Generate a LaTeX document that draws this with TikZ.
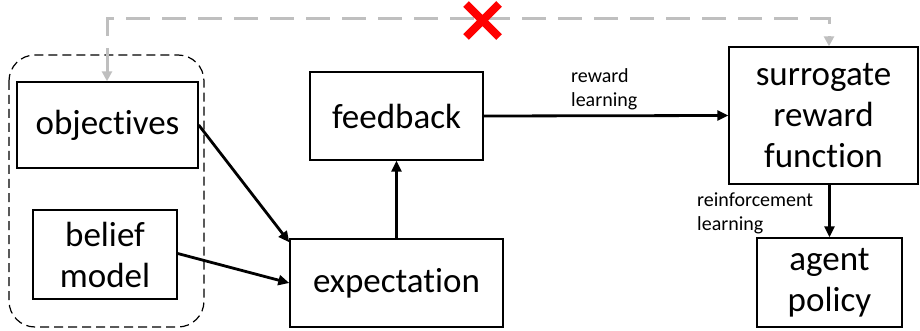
\documentclass[tikz,border=0pt]{standalone}
\usepackage{fontspec}
\setmainfont{Carlito}[RawFeature=-liga]
\usetikzlibrary{arrows.meta,calc}

\begin{document}
\begin{tikzpicture}[x=1pt,y=-1pt,
  box/.style={draw=black,line width=1.4pt,fill=white,inner sep=0pt,align=center,
    font=\fontsize{35}{41}\selectfont},
  flow/.style={line width=2.8pt,-{Triangle[length=11pt,width=10pt]}},
  lbl/.style={font=\fontsize{20}{24}\selectfont,align=left,inner sep=0pt},
  skip/.style={draw={rgb,255:red,191;green,191;blue,191},line width=3pt,
    dash pattern=on 24pt off 12pt,
    {Triangle[length=10pt,width=10pt]}-{Triangle[length=10pt,width=10pt]}},
  group/.style={draw=black,line width=1.2pt,dash pattern=on 9pt off 5pt,rounded corners=26pt}
]
\useasboundingbox[fill=white] (0,0) rectangle (920,331);

% dashed grouping around the two inputs
\draw[group] (9,55) rectangle (204,327);

% boxes
\node[box,minimum width=181pt,minimum height=86pt] (objectives) at (107.5,125) {objectives};
\node[box,minimum width=144pt,minimum height=89pt] (belief) at (105,254.5) {belief\\model};
\node[box,minimum width=173pt,minimum height=88pt] (feedback) at (396.5,116) {feedback};
\node[box,minimum width=213pt,minimum height=88pt] (expectation) at (396.5,283) {expectation};
\node[box,minimum width=189pt,minimum height=137pt] (surrogate) at (823.5,115.5) {surrogate\\reward\\function};
\node[box,minimum width=145pt,minimum height=89pt] (agent) at (829.5,282.5) {agent\\policy};

% solid connectors
\draw[flow] (objectives.east) -- ($(expectation.north west)+(0,4)$);
\draw[flow] ($(belief.east)+(0,-1)$) -- (expectation.west);
\draw[flow] (expectation.north) -- (feedback.south);
\draw[flow] (feedback.east) -- (surrogate.west);
\draw[flow] (agent.north |- surrogate.south) -- (agent.north);

% edge labels (base anchor sits on the last line)
\node[lbl,anchor=base west] (rl) at (571,107) {reward\\learning};
\node[lbl,anchor=base west] (rfl) at (697,230) {reinforcement\\learning};

% grey dashed bypass, crossed out
\coordinate (bypassL) at (107,19);
\coordinate (bypassR) at (829,19);
\draw[skip] (objectives.north -| bypassL) -- (bypassL) -- (bypassR) -- (surrogate.north -| bypassR);
\draw[red,line width=8pt] (466,4) -- (499,37) (466,37) -- (499,4);
\end{tikzpicture}
\end{document}
